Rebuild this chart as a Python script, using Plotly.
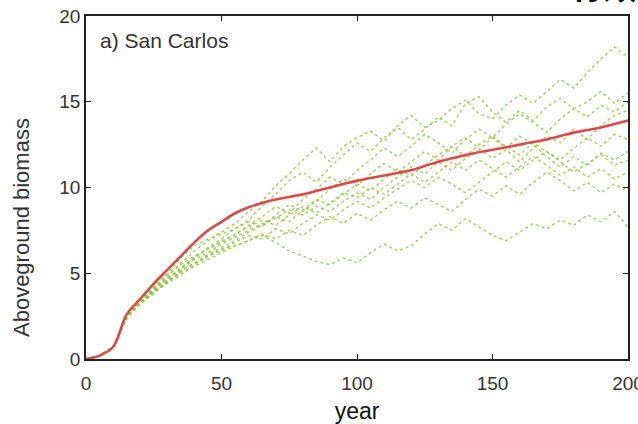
import plotly.graph_objects as go

years = list(range(0, 201, 5))

mean_biomass = [0, 0.2, 0.7, 2.6, 3.5, 4.4, 5.2, 6.0, 6.8, 7.5, 8.0, 8.5, 8.85, 9.1, 9.3,
                9.45, 9.6, 9.8, 10.0, 10.2, 10.4, 10.55, 10.7, 10.85, 11.0, 11.25, 11.5,
                11.7, 11.9, 12.05, 12.2, 12.35, 12.5, 12.65, 12.8, 13.0, 13.2, 13.35,
                13.5, 13.7, 13.9]

run_1 = [0, 0.2, 0.7, 2.5, 3.5, 4.3, 5.0, 5.9, 6.6, 7.0, 7.4, 7.9, 8.6, 9.2, 10.1, 10.8,
         11.6, 12.3, 11.5, 12.4, 12.9, 13.3, 12.7, 13.6, 14.2, 13.5, 13.9, 14.6, 15.1,
         14.3, 14.0, 14.8, 15.4, 14.9, 15.6, 16.3, 15.8, 16.7, 17.5, 18.2, 17.6]
run_2 = [0, 0.2, 0.7, 2.4, 3.3, 4.1, 4.9, 5.6, 6.3, 6.9, 7.3, 7.6, 8.1, 8.9, 9.6, 10.4,
         10.9, 10.3, 11.2, 11.9, 12.6, 12.1, 12.9, 13.5, 12.8, 13.4, 14.1, 13.6, 14.9,
         15.3, 14.4, 13.8, 14.5, 13.9, 14.7, 15.2, 14.6, 15.0, 15.6, 14.9, 15.5]
run_3 = [0, 0.2, 0.7, 2.5, 3.4, 4.2, 4.8, 5.5, 6.0, 6.4, 6.9, 7.2, 7.8, 8.3, 8.9, 8.5,
         9.3, 9.9, 10.6, 10.2, 11.0, 11.6, 12.3, 11.8, 12.4, 13.1, 12.6, 12.0, 12.8,
         13.4, 12.9, 13.7, 14.3, 13.8, 13.2, 14.0, 14.6, 14.1, 14.8, 14.4, 15.0]
run_4 = [0, 0.2, 0.7, 2.4, 3.3, 4.0, 4.6, 5.3, 5.9, 6.5, 7.0, 7.6, 8.0, 7.7, 8.4, 9.0,
         8.6, 9.2, 9.9, 10.5, 10.1, 10.8, 11.4, 10.9, 11.5, 12.1, 11.6, 12.4, 12.9,
         12.3, 11.7, 12.2, 11.5, 12.3, 13.0, 12.6, 13.4, 12.8, 13.6, 14.2, 14.5]
run_5 = [0, 0.2, 0.7, 2.5, 3.4, 4.1, 4.7, 5.2, 5.8, 6.2, 6.7, 7.1, 7.5, 7.9, 8.3, 8.0,
         8.7, 9.3, 9.0, 9.6, 10.2, 9.8, 10.5, 11.1, 10.7, 11.3, 11.9, 12.4, 11.8, 12.5,
         13.0, 12.4, 11.9, 12.6, 12.1, 11.6, 12.3, 12.9, 12.4, 13.1, 12.8]
run_6 = [0, 0.2, 0.7, 2.4, 3.2, 3.9, 4.5, 5.1, 5.6, 6.1, 6.5, 6.9, 7.4, 7.8, 8.2, 8.7,
         8.4, 8.9, 8.6, 9.2, 9.7, 9.3, 10.0, 10.6, 11.2, 10.8, 11.5, 11.0, 11.7, 12.2,
         12.9, 12.3, 13.0, 12.5, 11.8, 11.2, 11.8, 11.3, 12.0, 11.6, 12.1]
run_7 = [0, 0.2, 0.7, 2.4, 3.3, 3.9, 4.4, 4.9, 5.5, 6.0, 6.3, 6.8, 7.2, 7.0, 7.6, 7.3,
         7.9, 8.4, 8.1, 8.7, 9.2, 8.8, 9.4, 9.9, 10.4, 10.0, 10.6, 10.2, 9.7, 10.3,
         10.9, 11.5, 11.0, 11.6, 12.1, 11.5, 10.9, 11.4, 11.9, 11.3, 11.6]
run_8 = [0, 0.2, 0.7, 2.4, 3.2, 3.8, 4.5, 5.0, 5.4, 5.8, 6.2, 6.6, 6.9, 7.3, 7.0, 7.5,
         7.2, 7.8, 8.3, 7.9, 8.5, 8.1, 8.7, 9.2, 8.8, 9.4, 9.0, 8.6, 9.3, 9.9, 9.5,
         10.1, 9.6, 10.3, 10.9, 10.4, 9.8, 10.3, 9.7, 10.2, 9.8]
run_9 = [0, 0.2, 0.7, 2.5, 3.3, 3.9, 4.5, 5.1, 5.6, 6.0, 6.4, 6.6, 6.9, 7.2, 6.8, 6.3,
         6.0, 5.7, 5.5, 5.9, 5.6, 6.2, 6.7, 6.3, 6.6, 7.3, 7.9, 7.5, 8.2, 7.7, 7.2,
         6.9, 7.4, 7.9, 7.6, 8.1, 7.8, 8.4, 8.0, 8.6, 7.7]
run_10 = [0, 0.2, 0.7, 2.5, 3.4, 4.0, 4.7, 5.3, 5.9, 6.4, 6.8, 7.3, 7.7, 8.1, 7.8, 8.4,
          8.9, 8.5, 9.1, 9.7, 9.4, 10.0, 9.6, 10.2, 10.8, 10.3, 10.9, 11.5, 11.0, 11.6,
          11.1, 10.6, 11.2, 11.8, 11.3, 10.7, 11.2, 10.6, 11.1, 10.5, 10.9]

runs = [run_1, run_2, run_3, run_4, run_5, run_6, run_7, run_8, run_9, run_10]

x_ticks = [0, 50, 100, 150, 200]
y_ticks = [0, 5, 10, 15, 20]

fig = go.Figure()
for r in runs:
    fig.add_trace(go.Scatter(
        x=years, y=r, mode="lines",
        line=dict(color="rgba(145,198,65,0.85)", width=1.4, dash="dot"),
        showlegend=False, hoverinfo="skip"))

fig.add_trace(go.Scatter(
    x=years, y=mean_biomass, mode="lines", line_shape="spline",
    line=dict(color="#d94a4a", width=2.6), showlegend=False))

axis_common = dict(
    showline=True, linecolor="#222", linewidth=1.5, mirror="ticks",
    ticks="inside", ticklen=5, tickwidth=1.2, tickcolor="#222",
    showgrid=False, zeroline=False, automargin=False,
    tickfont=dict(family="Liberation Sans, Arial", size=19, color="#333"),
)

fig.update_layout(
    width=638, height=424,
    margin=dict(l=86, r=10, t=16, b=65),
    paper_bgcolor="white", plot_bgcolor="white",
    xaxis=dict(range=[0, 200], tickvals=x_ticks, ticklabeloverflow="allow",
               ticklabelstandoff=6,
               title=dict(text="year",
                          font=dict(family="Liberation Sans, Arial", size=23, color="#111")),
               **axis_common),
    yaxis=dict(range=[0, 20], tickvals=y_ticks, **axis_common),
    annotations=[
        dict(text="Aboveground biomass", xref="paper", yref="paper",
             x=-0.118, y=0.382, textangle=-90, xanchor="center", yanchor="middle",
             showarrow=False,
             font=dict(family="Liberation Sans, Arial", size=22, color="#333")),
        dict(text="a) San Carlos", xref="x", yref="y", x=4.5, y=18.6,
             xanchor="left", yanchor="middle", showarrow=False,
             font=dict(family="Liberation Sans, Arial", size=21, color="#333")),
        dict(text="<b>有效</b>", xref="paper", yref="paper", x=1.02, y=1.0146,
             xanchor="right", yanchor="bottom", showarrow=False,
             font=dict(family="Noto Sans CJK SC", size=34, color="#000")),
    ],
)

fig.write_html("out.html", config={"displayModeBar": False},
               post_script="document.body.style.margin='0';document.body.style.overflow='hidden';")
